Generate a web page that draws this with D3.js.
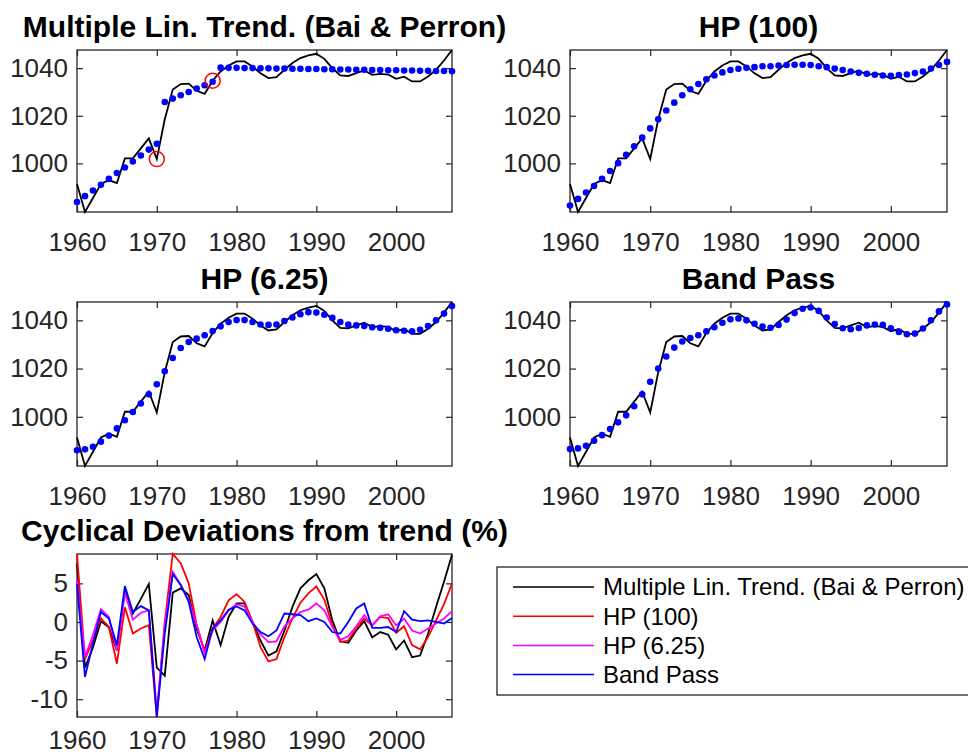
<!DOCTYPE html>
<html>
<head>
<meta charset="utf-8">
<script src="https://cdn.jsdelivr.net/npm/d3@7/dist/d3.min.js"></script>
<style>
  body { margin: 0; background: #fff; }
  text { font-family: "Liberation Sans", Arial, sans-serif; }
</style>
</head>
<body>
<svg id="chart" width="968" height="756"></svg>
<script>
// years on the x axis
const years = [
  1960, 1961, 1962, 1963, 1964, 1965, 1966, 1967, 1968, 1969,
  1970, 1971, 1972, 1973, 1974, 1975, 1976, 1977, 1978, 1979,
  1980, 1981, 1982, 1983, 1984, 1985, 1986, 1987, 1988, 1989,
  1990, 1991, 1992, 1993, 1994, 1995, 1996, 1997, 1998, 1999,
  2000, 2001, 2002, 2003, 2004, 2005, 2006, 2007
];

// original series (black line)
const series = [
  991.4, 979.6, 985.5, 991.4, 993.0, 991.7, 1002.1, 1002.1, 1006.3, 1010.5,
  1001.8, 1018.5, 1031.0, 1033.3, 1033.5, 1030.5, 1029.2, 1034.7, 1038.6, 1041.1,
  1042.8, 1042.8, 1040.7, 1037.8, 1035.8, 1036.2, 1039.3, 1042.1, 1044.2, 1045.3,
  1046.0, 1043.9, 1040.0, 1036.9, 1036.7, 1037.9, 1039.0, 1037.2, 1037.6, 1037.3,
  1035.5, 1036.4, 1034.4, 1034.4, 1036.5, 1039.3, 1043.2, 1047.6
];

// trends (blue dots)
const trendBaiPerron = [
  983.75, 986.25, 988.6, 991.0, 993.5, 996.0, 998.3, 1000.8, 1003.3, 1005.8,
  1008.2, 1025.8, 1027.2, 1028.6, 1030.0, 1031.4, 1032.8, 1034.3, 1040.2, 1040.1,
  1040.1, 1040.0, 1040.0, 1039.9, 1039.9, 1039.8, 1039.8, 1039.7, 1039.7, 1039.6,
  1039.6, 1039.5, 1039.5, 1039.4, 1039.4, 1039.3, 1039.3, 1039.2, 1039.2, 1039.1,
  1039.1, 1039.0, 1039.0, 1038.9, 1038.9, 1038.8, 1038.8, 1038.7
];
const trendHP100 = [
  982.3, 985.1, 987.8, 990.5, 993.5, 996.8, 1000.1, 1003.6, 1007.2, 1010.8,
  1014.7, 1018.5, 1022.2, 1025.5, 1028.6, 1031.1, 1033.3, 1035.3, 1036.9, 1038.2,
  1039.2, 1039.7, 1040.1, 1040.4, 1040.8, 1040.8, 1041.1, 1041.3, 1041.4, 1041.4,
  1041.3, 1040.8, 1040.4, 1039.8, 1039.2, 1038.6, 1038.0, 1037.6, 1037.2, 1036.9,
  1036.8, 1037.1, 1037.3, 1037.9, 1038.6, 1039.8, 1041.3, 1042.6
];
const trendHP625 = [
  986.1, 986.5, 987.6, 989.7, 992.2, 995.2, 998.6, 1002.0, 1005.5, 1009.3,
  1013.5, 1018.9, 1024.4, 1028.5, 1031.0, 1032.4, 1033.8, 1035.6, 1037.5, 1039.3,
  1040.1, 1040.1, 1039.3, 1038.3, 1038.1, 1038.3, 1039.7, 1041.2, 1042.5, 1043.4,
  1043.2, 1042.3, 1041.0, 1039.3, 1038.2, 1037.9, 1037.6, 1037.1, 1036.9, 1036.5,
  1035.9, 1035.7, 1035.4, 1036.1, 1037.6, 1040.0, 1042.8, 1045.9
];
const trendBandPass = [
  986.6, 986.9, 988.0, 990.1, 992.4, 994.9, 997.7, 1000.6, 1004.4, 1009.3,
  1014.5, 1020.0, 1025.0, 1028.7, 1031.2, 1032.7, 1033.8, 1035.4, 1037.1, 1039.0,
  1040.4, 1040.8, 1040.0, 1038.6, 1037.4, 1036.9, 1038.1, 1040.3, 1043.0, 1044.8,
  1045.3, 1043.9, 1041.2, 1038.5, 1036.7, 1036.3, 1036.8, 1037.9, 1038.3, 1038.1,
  1036.7, 1035.2, 1034.2, 1034.5, 1036.6, 1040.0, 1043.7, 1046.6
];
// break dates of the Bai & Perron trend (red circles)
const breakYears = [1970, 1977];

// cyclical deviations (%)
const cycleBaiPerron = [
  7.6, -5.9, -3.3, 0.1, -0.7, -3.7, 4.1, 1.1, 3.0, 4.9,
  -5.9, -6.95, 3.8, 4.35, 3.5, -0.9, -3.7, 0.2, -3.0, 0.65,
  2.4, 2.4, 0, -2.4, -4.35, -3.8, -1.1, 1.95, 4.35, 5.4,
  6.2, 4.35, 0.2, -2.5, -2.7, -1.1, 0.1, -2.0, -1.3, -1.65,
  -3.55, -2.4, -4.55, -4.35, -1.5, 1.95, 5.2, 8.7
];
const cycleHP100 = [
  8.8, -4.8, -2.4, 0.45, -0.65, -5.4, 1.9, -1.5, -0.85, -0.4,
  -12.3, 0, 8.8, 7.6, 5.0, -0.4, -3.9, -0.85, 0.65, 2.8,
  3.6, 2.6, 0, -3.25, -5.1, -4.8, -1.95, 0.45, 2.5, 3.7,
  4.6, 2.9, -0.45, -2.6, -2.4, -0.85, 0.45, -0.45, 0.65, 0.5,
  -1.4, -0.55, -3.0, -3.55, -1.95, 0.2, 2.3, 5.0
];
const cycleHP625 = [
  5.4, -4.55, -1.7, 1.65, 0.65, -3.7, 3.8, 0.3, 1.2, 1.5,
  -11.6, -0.4, 6.5, 4.8, 2.8, -0.4, -4.0, -1.1, 0, 1.5,
  2.3, 2.0, 0, -1.6, -2.6, -2.5, -0.55, 0.45, 1.3, 1.6,
  2.4, 1.5, -0.65, -2.3, -1.85, -0.55, 0.9, -0.45, 0.75, 1.0,
  -0.45, 0.45, -1.1, -1.5, -0.85, -0.2, 0.45, 1.4
];
const cycleBandPass = [
  4.9, -7.1, -2.8, 1.3, 0.45, -3.0, 4.65, 1.3, 2.05, 1.5,
  -12.3, -1.5, 6.2, 4.8, 2.6, -1.95, -4.8, -0.85, 0.2, 1.6,
  2.0, 1.5, -0.2, -1.3, -1.85, -1.1, 1.1, 1.0, 0.9, 0.1,
  0.45, 0, -1.3, -1.5, 0, 1.75, 2.4, -0.75, -0.75, -0.65,
  -1.3, 1.4, 0.3, 0.1, 0.2, 0, -0.2, 0.5
];

const xTicks = [1960, 1970, 1980, 1990, 2000];
const levelTicks = [1000, 1020, 1040];
const cycleTicks = [-10, -5, 0, 5];

const legendLabels = ["Multiple Lin. Trend. (Bai & Perron)", "HP (100)", "HP (6.25)", "Band Pass"];
const cycleSeries = [cycleBaiPerron, cycleHP100, cycleHP625, cycleBandPass];
const cycleColors = ["#000000", "#ff0000", "#ff00ff", "#0000ff"];

const axisColor = "#262626";
const svg = d3.select("#chart");

// plain hyphen for negatives, like the original figure
const fmt = (d) => String(d);

// draws the frame, ticks and labels of one panel; returns the scales
function makeAxes(box, yDomain, yTicks, title, xPad) {
  const g = svg.append("g").attr("transform", "translate(" + box.x + "," + box.y + ")");
  const x = d3.scaleLinear().domain([1960, 2007]).range([0, box.w]);
  const y = d3.scaleLinear().domain(yDomain).range([box.h, 0]);

  const bottom = d3.axisBottom(x).tickValues(xTicks).tickFormat(fmt)
    .tickSizeInner(-6).tickSizeOuter(0).tickPadding(xPad);
  const top = d3.axisTop(x).tickValues(xTicks).tickFormat("").tickSizeInner(-6).tickSizeOuter(0);
  const left = d3.axisLeft(y).tickValues(yTicks).tickFormat(fmt)
    .tickSizeInner(-6).tickSizeOuter(0).tickPadding(9);
  const right = d3.axisRight(y).tickValues(yTicks).tickFormat("").tickSizeInner(-6).tickSizeOuter(0);

  g.append("g").attr("transform", "translate(0," + box.h + ")").call(bottom);
  g.append("g").call(top);
  g.append("g").call(left);
  g.append("g").attr("transform", "translate(" + box.w + ",0)").call(right);

  g.selectAll(".tick line").attr("stroke", axisColor).attr("stroke-width", 1.2);
  g.selectAll(".domain").remove();
  g.selectAll(".tick text").attr("fill", axisColor).style("font-size", "26px");

  g.append("rect")
    .attr("width", box.w).attr("height", box.h)
    .attr("fill", "none").attr("stroke", axisColor).attr("stroke-width", 1.3);

  g.append("text")
    .attr("x", box.w / 2).attr("y", -13)
    .attr("text-anchor", "middle")
    .style("font-size", "30px").style("font-weight", "bold")
    .attr("fill", "#000")
    .text(title);

  return { g, x, y };
}

const levelDomain = d3.extent(series);

const trendPanels = [
  { box: { x: 77, y: 50, w: 375, h: 162 }, trend: trendBaiPerron, title: "Multiple Lin. Trend. (Bai & Perron)", breaks: true },
  { box: { x: 570, y: 50, w: 377, h: 162 }, trend: trendHP100, title: "HP (100)" },
  { box: { x: 77, y: 302, w: 375, h: 164 }, trend: trendHP625, title: "HP (6.25)" },
  { box: { x: 570, y: 302, w: 377, h: 164 }, trend: trendBandPass, title: "Band Pass" }
];

trendPanels.forEach(function (p) {
  const { g, x, y } = makeAxes(p.box, levelDomain, levelTicks, p.title, 21);

  const line = d3.line()
    .x((d, i) => x(years[i]))
    .y((d) => y(d));

  g.append("path")
    .datum(series)
    .attr("d", line)
    .attr("fill", "none")
    .attr("stroke", "#000")
    .attr("stroke-width", 1.8);

  g.selectAll(".dot")
    .data(p.trend)
    .enter()
    .append("circle")
    .attr("cx", (d, i) => x(years[i]))
    .attr("cy", (d) => y(d))
    .attr("r", 3.3)
    .attr("fill", "#0000ff");

  if (p.breaks) {
    g.selectAll(".brk")
      .data(breakYears)
      .enter()
      .append("circle")
      .attr("cx", (d) => x(d))
      .attr("cy", (d) => y(series[years.indexOf(d)]))
      .attr("r", 7.5)
      .attr("fill", "none")
      .attr("stroke", "#ff0000")
      .attr("stroke-width", 1.5);
  }
});

// cyclical deviations panel
const cycleDomain = d3.extent(cycleSeries.flat());
const cyc = makeAxes({ x: 77, y: 554, w: 375, h: 163 }, cycleDomain, cycleTicks,
  "Cyclical Deviations from trend (%)", 14);

const cycleLine = d3.line()
  .x((d, i) => cyc.x(years[i]))
  .y((d) => cyc.y(d));

cycleSeries.forEach(function (s, k) {
  cyc.g.append("path")
    .datum(s)
    .attr("d", cycleLine)
    .attr("fill", "none")
    .attr("stroke", cycleColors[k])
    .attr("stroke-width", 1.8);
});

// legend
const legend = svg.append("g").attr("transform", "translate(497,567)");
legend.append("rect")
  .attr("width", 480).attr("height", 128)
  .attr("fill", "#fff").attr("stroke", axisColor).attr("stroke-width", 1.3);

legendLabels.forEach(function (label, k) {
  const yy = 20 + k * 29.2;
  legend.append("line")
    .attr("x1", 16).attr("x2", 97)
    .attr("y1", yy).attr("y2", yy)
    .attr("stroke", cycleColors[k]).attr("stroke-width", 1.5);
  legend.append("text")
    .attr("x", 106).attr("y", yy)
    .attr("dy", "0.35em")
    .style("font-size", "24px")
    .attr("fill", "#000")
    .text(label);
});
</script>
</body>
</html>
